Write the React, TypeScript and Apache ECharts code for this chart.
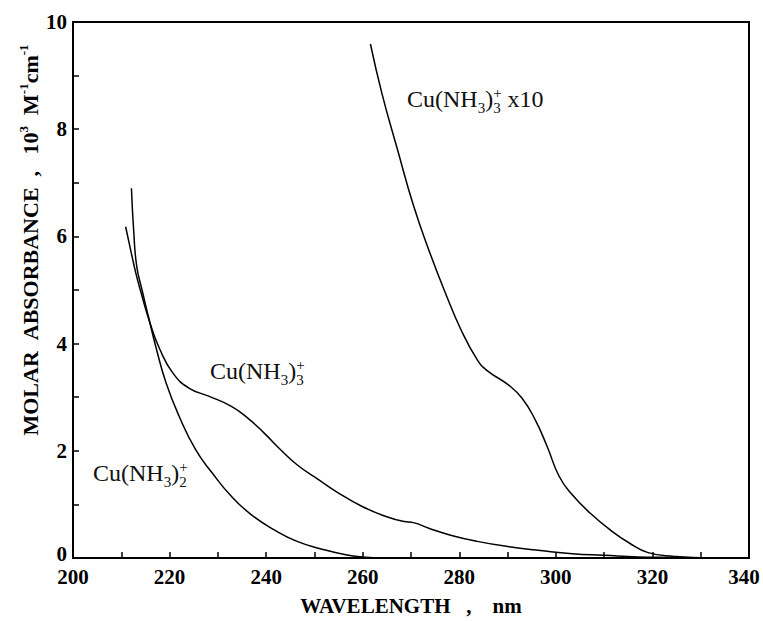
import React, { useEffect, useRef } from "react";
import * as echarts from "echarts";

// Cu(NH3)3+ : wavelength (nm) and molar absorbance (10^3 M^-1 cm^-1)
const triWavelength = [210.9, 212, 213, 214, 215.9, 218, 220.7, 224, 228.1, 232.8, 236.2, 239.6, 243, 246.4, 250.4, 254.5, 259.9, 265.3, 268.6, 270.5, 273.8, 278.4, 283.7, 290.3, 296.8, 303.4, 310, 317, 324, 332, 340];
const triAbsorbance = [6.18, 5.72, 5.32, 4.98, 4.4, 3.89, 3.45, 3.17, 3.02, 2.83, 2.61, 2.33, 2.02, 1.74, 1.49, 1.24, 0.96, 0.76, 0.68, 0.66, 0.55, 0.42, 0.31, 0.21, 0.14, 0.08, 0.05, 0.02, 0.01, 0, 0];

// Cu(NH3)2+
const diWavelength = [212.1, 212.6, 213.2, 214.3, 215.6, 217.3, 219.3, 222, 225.4, 228.8, 232.8, 236.9, 241.6, 246.4, 251.8, 256.5, 259.9, 264.5];
const diAbsorbance = [6.9, 6.06, 5.44, 5.0, 4.51, 3.89, 3.26, 2.64, 2.02, 1.59, 1.15, 0.81, 0.53, 0.31, 0.16, 0.06, 0.02, 0];

// Cu(NH3)3+ x10
const tri10Wavelength = [261.6, 264, 267.2, 270.5, 273.8, 277.1, 280.4, 283.7, 285.7, 290.3, 293, 295.6, 298.2, 300.7, 303.4, 307.2, 311.3, 315.2, 319.1, 324.5, 332, 340];
const tri10Absorbance = [9.59, 8.66, 7.62, 6.58, 5.72, 4.95, 4.25, 3.7, 3.5, 3.22, 2.98, 2.6, 2.08, 1.52, 1.18, 0.83, 0.52, 0.28, 0.1, 0.03, 0, 0];

const SERIF = '"Liberation Serif", "Times New Roman", serif';
const NB = "\u00a0";

export default function App() {
  const ref = useRef<HTMLDivElement>(null);

  useEffect(() => {
    if (!ref.current) return;
    const chart = echarts.init(ref.current, null, { renderer: "svg" });

    const pairs = (xs: number[], ys: number[]) => xs.map((x, i) => [x, ys[i]]);
    const line = (name: string, data: number[][]) => ({
      name,
      type: "line",
      data,
      symbol: "none",
      showSymbol: false,
      smooth: 0.5,
      silent: true,
      emphasis: { disabled: true },
      lineStyle: { color: "#000", width: 1.5 },
    });

    const tickFont = { fontFamily: SERIF, fontWeight: "bold", fontSize: 21, color: "#000" };

    const lblRich: any = {
      m: { fontFamily: SERIF, fontSize: 24, fill: "#111", lineHeight: 28 },
      sub: { fontFamily: SERIF, fontSize: 15, fill: "#111", lineHeight: 15, verticalAlign: "top", padding: [15, 0, 0, 0] },
      subz: { fontFamily: SERIF, fontSize: 15, fill: "#111", lineHeight: 15, verticalAlign: "top", padding: [15, 0, 0, 0], width: 0 },
      sup: { fontFamily: SERIF, fontSize: 15, fill: "#111", lineHeight: 15, verticalAlign: "top" },
    };

    const yTitleRich: any = {
      m: { fontFamily: SERIF, fontWeight: "bold", fontSize: 22, fill: "#000", lineHeight: 26 },
      sp: { fontFamily: SERIF, fontWeight: "bold", fontSize: 13, fill: "#000", lineHeight: 13, verticalAlign: "top" },
    };

    const curveLabel = (x: number, y: number, n: string, extra: string) => ({
      type: "text",
      x,
      y,
      silent: true,
      style: {
        text: `{m|Cu(NH}{sub|3}{m|)}{subz|${n}}{sup|+}` + (extra ? `{m|${NB}${extra}}` : ""),
        rich: lblRich,
        align: "left",
        verticalAlign: "top",
      },
    });

    const tickLine = { color: "#000", width: 1.5 };

    chart.setOption({
      animation: false,
      backgroundColor: "#fff",
      grid: {
        left: 73,
        right: 14,
        top: 22,
        bottom: 63,
        show: true,
        borderColor: "#000",
        borderWidth: 2,
        backgroundColor: "transparent",
        outerBoundsMode: "none",
      },
      xAxis: {
        type: "value",
        min: 200,
        max: 340,
        interval: 10,
        name: `WAVELENGTH${NB}${NB}${NB},${NB}${NB}${NB}${NB}nm`,
        nameLocation: "middle",
        nameGap: 37,
        nameTextStyle: { fontFamily: SERIF, fontWeight: "bold", fontSize: 21, color: "#000" },
        axisLine: { show: true, onZero: false, lineStyle: { color: "#000", width: 2 } },
        axisTick: { show: true, inside: true, length: 6, lineStyle: tickLine },
        axisLabel: {
          ...tickFont,
          margin: 8,
          formatter: (v: number) => (v % 20 !== 0 ? "" : v === 340 ? "{r|340}" : String(v)),
          rich: { r: { ...tickFont, padding: [0, 10, 0, 0] } },
        },
        splitLine: { show: false },
      },
      yAxis: {
        type: "value",
        min: 0,
        max: 10,
        interval: 1,
        axisLine: { show: true, onZero: false, lineStyle: { color: "#000", width: 2 } },
        axisTick: { show: true, inside: true, length: 6, lineStyle: tickLine },
        axisLabel: {
          ...tickFont,
          margin: 6,
          formatter: (v: number) => (v % 2 !== 0 ? "" : v === 0 ? "{z|0}" : String(v)),
          rich: { z: { ...tickFont, padding: [0, 0, 8, 0] } },
        },
        splitLine: { show: false },
      },
      series: [
        line("Cu(NH3)3+", pairs(triWavelength, triAbsorbance)),
        line("Cu(NH3)2+", pairs(diWavelength, diAbsorbance)),
        line("Cu(NH3)3+ x10", pairs(tri10Wavelength, tri10Absorbance)),
      ],
      graphic: [
        {
          type: "text",
          x: 30,
          y: 240,
          rotation: Math.PI / 2,
          silent: true,
          style: {
            text: `{m|MOLAR${NB}${NB}ABSORBANCE${NB}${NB},${NB}${NB}${NB}10}{sp|3}{m|${NB}${NB}M}{sp|-1}{m|cm}{sp|-1}`,
            rich: yTitleRich,
            align: "center",
            verticalAlign: "middle",
          },
        },
        curveLabel(407, 85, "3", "x10"),
        curveLabel(210, 357, "3", ""),
        curveLabel(93, 459, "2", ""),
      ],
    });

    return () => {
      chart.dispose();
    };
  }, []);

  return (
    <div
      ref={ref}
      style={{ position: "absolute", left: 0, top: 0, width: 763, height: 621, background: "#fff" }}
    />
  );
}
